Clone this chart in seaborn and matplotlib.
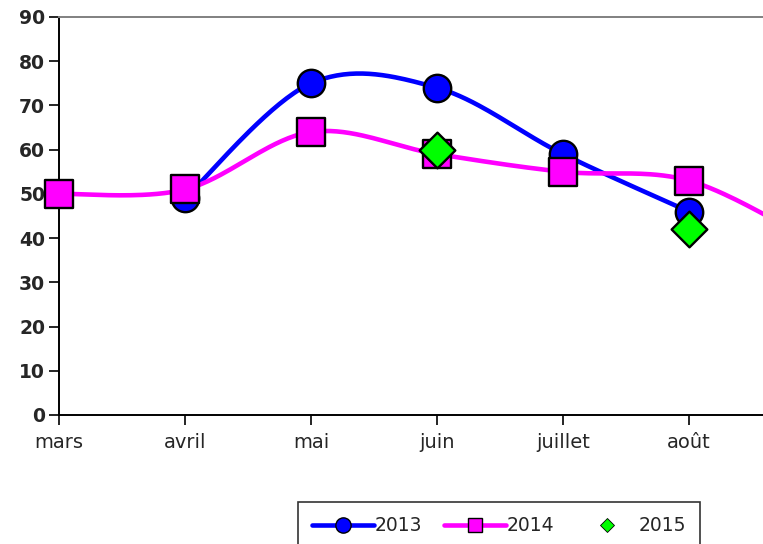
import numpy as np
import pandas as pd
import matplotlib
matplotlib.use("Agg")
import matplotlib.pyplot as plt
import seaborn as sns
from matplotlib.lines import Line2D

# data
months = ['mars', 'avril', 'mai', 'juin', 'juillet', 'août', 'septembre']
val2013 = [np.nan, 49, 75, 74, 59, 46, np.nan]
val2014 = [50, 51, 64, 59, 55, 53, 39]
val2015 = [np.nan, np.nan, np.nan, 60, np.nan, 42, np.nan]


def smooth(xs, ys, n=40):
    # excel-like smoothed line (bezier through the points)
    pts = [(x, y) for x, y in zip(xs, ys) if not np.isnan(y)]
    px = np.array([p[0] for p in pts], float)
    py = np.array([p[1] for p in pts], float)
    outx, outy = [], []
    t = np.linspace(0, 1, n)
    for i in range(len(px) - 1):
        i0 = max(i - 1, 0)
        i3 = min(i + 2, len(px) - 1)
        p1 = np.array([px[i], py[i]])
        p2 = np.array([px[i + 1], py[i + 1]])
        c1 = p1 + (p2 - np.array([px[i0], py[i0]])) / 6
        c2 = p2 - (np.array([px[i3], py[i3]]) - p1) / 6
        b = ((1 - t) ** 3)[:, None] * p1 + (3 * t * (1 - t) ** 2)[:, None] * c1 \
            + (3 * t ** 2 * (1 - t))[:, None] * c2 + (t ** 3)[:, None] * p2
        outx.extend(b[:, 0])
        outy.extend(b[:, 1])
    return np.array(outx), np.array(outy)


sns.set_style("white")
plt.rcParams['font.family'] = ['DejaVu Sans']

fig = plt.figure(figsize=(7.63, 5.44), dpi=100)
# axes runs past the right edge like the cropped original
ax = fig.add_axes([59 / 763, 129 / 544, 6.5 * 126 / 763, 398 / 544])

xpos = np.arange(len(months))
blue = '#0000FF'
pink = '#FF00FF'
green = '#00FF00'

sx, sy = smooth(xpos, val2013)
sns.lineplot(x=sx, y=sy, color=blue, lw=3.3, ax=ax, sort=False, zorder=3)
df13 = pd.DataFrame({'x': xpos, 'y': val2013}).dropna()
sns.scatterplot(data=df13, x='x', y='y', marker='o', s=390, color=blue,
                edgecolor='black', linewidth=1.7, ax=ax, zorder=4, clip_on=False)

sx, sy = smooth(xpos, val2014)
sns.lineplot(x=sx, y=sy, color=pink, lw=3.3, ax=ax, sort=False, zorder=5)
df14 = pd.DataFrame({'x': xpos, 'y': val2014}).dropna()
sns.scatterplot(data=df14, x='x', y='y', marker='s', s=380, color=pink,
                edgecolor='black', linewidth=1.7, ax=ax, zorder=6, clip_on=False)

df15 = pd.DataFrame({'x': xpos, 'y': val2015}).dropna()
sns.scatterplot(data=df15, x='x', y='y', marker='D', s=330, color=green,
                edgecolor='black', linewidth=1.7, ax=ax, zorder=7, clip_on=False)

ax.set_xlim(0, 6.5)
ax.set_ylim(0, 90)
ax.set_yticks(range(0, 91, 10))
ax.set_xticks(xpos)
ax.set_xticklabels(months)
ax.set_xlabel('')
ax.set_ylabel('')
ax.tick_params(axis='y', direction='out', length=7, width=1.2, color='black',
               labelsize=13.5, pad=3, left=True)
ax.tick_params(axis='x', direction='out', length=7, width=1.2, color='black',
               labelsize=14, pad=6, bottom=True)
for lab in ax.get_yticklabels():
    lab.set_fontweight('bold')

for s in ['left', 'bottom']:
    ax.spines[s].set_color('black')
    ax.spines[s].set_linewidth(1.4)
ax.spines['top'].set_color('#808080')
ax.spines['top'].set_linewidth(1.4)
ax.spines['right'].set_color('#808080')

handles = [
    Line2D([], [], color=blue, lw=3.3, marker='o', markersize=11,
           markeredgecolor='black', markeredgewidth=1),
    Line2D([], [], color=pink, lw=3.3, marker='s', markersize=10,
           markeredgecolor='black', markeredgewidth=1),
    Line2D([], [], color='none', marker='D', markersize=7, markerfacecolor=green,
           markeredgecolor='black', markeredgewidth=0.6),
]
leg = fig.legend(handles, ['2013', '2014', '2015'], loc='upper left',
                 bbox_to_anchor=(298 / 763, 1 - 502 / 544), ncol=3,
                 frameon=True, fancybox=False, edgecolor='black',
                 fontsize=13.5, handlelength=3.3, handletextpad=0.05,
                 columnspacing=1.15, borderpad=0.75, borderaxespad=0)
leg.get_frame().set_linewidth(1.2)

fig.savefig('out.png', dpi=100)
